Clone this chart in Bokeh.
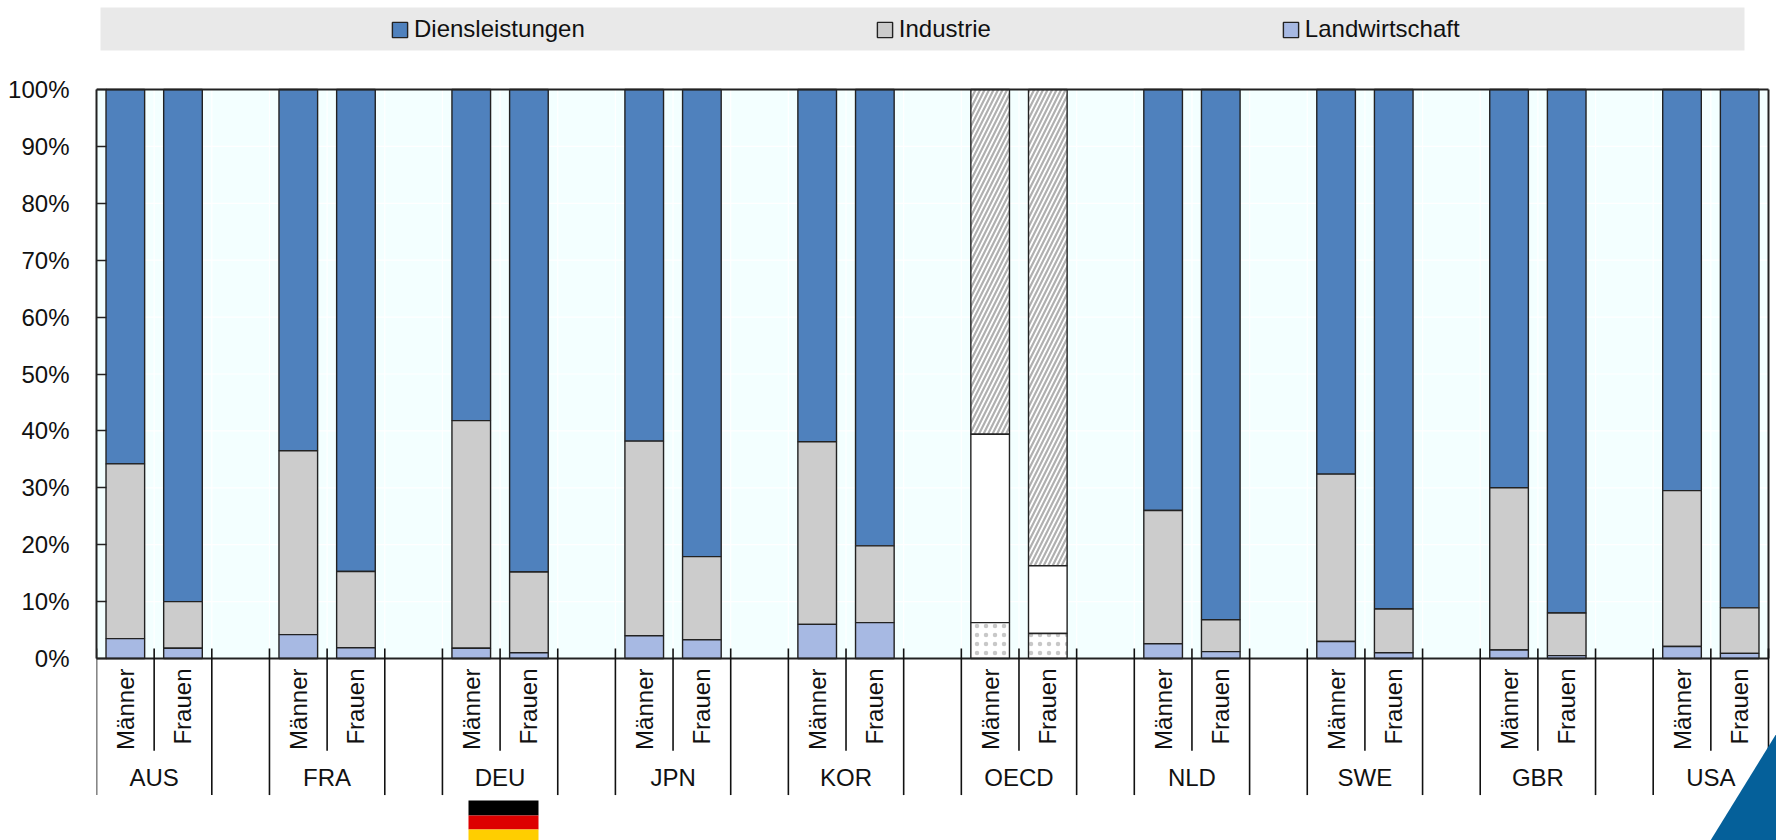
from bokeh.core.properties import value
from bokeh.embed import file_html
from bokeh.models import ColumnDataSource, Legend, LegendItem, Range1d
from bokeh.plotting import figure
from bokeh.resources import INLINE

countries = ["AUS", "FRA", "DEU", "JPN", "KOR", "OECD", "NLD", "SWE", "GBR", "USA"]
sexes = ["Männer", "Frauen"]

# Share of employment by sector, in percent; each pair is (men, women)
agriculture = [3.5, 1.8, 4.2, 1.9, 1.8, 1.0, 4.0, 3.3, 6.0, 6.3,
               6.3, 4.4, 2.6, 1.2, 3.0, 1.0, 1.5, 0.5, 2.1, 0.9]
industry = [30.7, 8.2, 32.3, 13.4, 40.0, 14.2, 34.2, 14.6, 32.1, 13.5,
            33.1, 11.9, 23.4, 5.6, 29.4, 7.7, 28.5, 7.5, 27.4, 8.0]
services = [65.8, 90.0, 63.5, 84.7, 58.2, 84.8, 61.8, 82.1, 61.9, 80.2,
            60.6, 83.7, 74.0, 93.2, 67.6, 91.3, 70.0, 92.0, 70.5, 91.1]
y_ticks = [0, 10, 20, 30, 40, 50, 60, 70, 80, 90, 100]
legend_labels = ["Diensleistungen", "Industrie", "Landwirtschaft"]

FONT = "Liberation Sans"
TEXT_SIZE = "24px"
INK = "#222222"
TEXT = "#111111"
BLUE, GREY, PALE = "#4F81BD", "#CCCCCC", "#A7B9E3"

WIDTH, HEIGHT = 1776, 840
AXIS_LEFT, AXIS_RIGHT = 96, 1768     # pixel columns of slot 0 and of the last slot edge
AXIS_TOP, AXIS_BOTTOM = 89, 658      # pixel rows of 100% and 0%

n_groups = len(countries)
n_slots = 2 * n_groups + n_groups - 1
slot_px = (AXIS_RIGHT - AXIS_LEFT) / n_slots
pct_px = (AXIS_BOTTOM - AXIS_TOP) / 100

# Men and women take one slot each, with an empty slot between countries
bar_x, bar_sex = [], []
group_edges, sex_edges, group_mid = [], [], []
for i in range(n_groups):
    bar_x += [3 * i + 0.5, 3 * i + 1.5]
    bar_sex += sexes
    group_edges += [3 * i, 3 * i + 2]
    sex_edges.append(3 * i + 1)
    group_mid.append(3 * i + 1)

oecd = [c == "OECD" for c in countries for _ in sexes]
high = [a + b for a, b in zip(agriculture, industry)]
tops = [h + s for h, s in zip(high, services)]

source = ColumnDataSource(dict(
    x=bar_x,
    a0=[0.0] * len(bar_x), a1=agriculture, i1=high, s1=tops,
    a_fill=["#FFFFFF" if o else PALE for o in oecd],
    i_fill=["#FFFFFF" if o else GREY for o in oecd],
    s_fill=["#FFFFFF" if o else BLUE for o in oecd],
    a_hatch=["dot" if o else " " for o in oecd],
    s_hatch=["right_diagonal_line" if o else " " for o in oecd],
))

# The plot area takes the whole page right of the axis, so the legend band, the category
# labels and the flag can all be drawn as glyphs
p = figure(
    width=WIDTH, height=HEIGHT, output_backend="svg", toolbar_location=None,
    x_range=Range1d(0, (WIDTH - AXIS_LEFT) / slot_px),
    y_range=Range1d(-(HEIGHT - AXIS_BOTTOM) / pct_px, AXIS_BOTTOM / pct_px),
    min_border_left=AXIS_LEFT, min_border_right=0, min_border_top=0, min_border_bottom=0,
    background_fill_color=None, border_fill_color="#FFFFFF", outline_line_color=None,
    x_axis_location=None,
)
p.grid.visible = False
p.extra_x_ranges["px"] = Range1d(AXIS_LEFT, WIDTH)
p.extra_y_ranges["px"] = Range1d(HEIGHT, 0)
PX = dict(x_range_name="px", y_range_name="px")

# Legend band
p.quad(left=[100], right=[1744], top=[7], bottom=[50], fill_color="#E9E9E9", line_color=None, **PX)

# Plot panel with its faint grid
p.quad(left=[0], right=[n_slots], top=[100], bottom=[0], fill_color="#F3FFFF", line_color=None)
slots = list(range(n_slots + 1))
p.segment(x0=slots, x1=slots, y0=[0] * len(slots), y1=[100] * len(slots),
          line_color="#FFFFFF", line_width=1.2)
p.segment(x0=[0] * len(y_ticks), x1=[n_slots] * len(y_ticks), y0=y_ticks, y1=y_ticks,
          line_color="#FFFFFF", line_width=1.2)

# Stacked bars
BAR = dict(source=source, x="x", width=0.67, line_color=INK, line_width=1.4)
r_services = p.vbar(bottom="i1", top="s1", fill_color="s_fill", hatch_pattern="s_hatch",
                    hatch_color="#B0B0B0", hatch_scale=9, hatch_weight=2.2, **BAR)
r_industry = p.vbar(bottom="a1", top="i1", fill_color="i_fill", **BAR)
r_agri = p.vbar(bottom="a0", top="a1", fill_color="a_fill", hatch_pattern="a_hatch",
                hatch_color="#C8C8C8", hatch_scale=9, hatch_weight=1.0, **BAR)

# Panel frame
p.segment(x0=[0, 0, n_slots], x1=[n_slots, n_slots, n_slots], y0=[100, 0, 0], y1=[100, 0, 100],
          line_color=INK, line_width=2)

# Value axis
p.yaxis.bounds = (0, 100)
p.yaxis.ticker = y_ticks
p.yaxis.major_label_overrides = {t: f"{t}%" for t in y_ticks}
p.yaxis.major_label_text_font = FONT
p.yaxis.major_label_text_font_size = TEXT_SIZE
p.yaxis.major_label_text_color = TEXT
p.yaxis.major_label_standoff = 27
p.yaxis.major_tick_in = 10
p.yaxis.major_tick_out = 0
p.yaxis.minor_tick_line_color = None
p.yaxis.axis_line_color = INK
p.yaxis.axis_line_width = 2
p.yaxis.major_tick_line_color = INK
p.yaxis.major_tick_line_width = 1.5

# Separators and category labels under the panel
p.segment(x0=group_edges, x1=group_edges, y0=[1.76] * len(group_edges), y1=[-24.0] * len(group_edges),
          line_color=TEXT, line_width=1.6)
p.segment(x0=sex_edges, x1=sex_edges, y0=[1.76] * len(sex_edges), y1=[-16.2] * len(sex_edges),
          line_color=TEXT, line_width=1.6)
p.text(x=bar_x, y=[-1.76] * len(bar_x), text=bar_sex, angle=1.5708,
       text_align="right", text_baseline="middle", text_font=value(FONT),
       text_font_size=value(TEXT_SIZE), text_color=TEXT)
p.text(x=group_mid, y=[-20.9] * len(group_mid), text=countries, text_align="center",
       text_baseline="middle", text_font=value(FONT), text_font_size=value(TEXT_SIZE),
       text_color=TEXT)

# Flag under the DEU group
for y0, y1, colour in ((800, 815, "#000000"), (815, 829, "#DD0000"), (829, 840, "#FFCE00")):
    p.quad(left=[468], right=[538], top=[y0], bottom=[y1], fill_color=colour, line_color=None, **PX)

# Corner triangle
p.patch(x=[1776, 1776, 1710], y=[733, 840, 840], fill_color="#05609A", line_color=None, **PX)

p.add_layout(Legend(
    items=[LegendItem(label=value(t), renderers=[r])
           for t, r in zip(legend_labels, (r_services, r_industry, r_agri))],
    orientation="horizontal", location=(294, 797), spacing=290, padding=0, margin=0,
    background_fill_alpha=0, border_line_color=None, glyph_width=19, glyph_height=19,
    label_text_font=FONT, label_text_font_size=TEXT_SIZE, label_standoff=5, label_text_color=TEXT,
), "center")

open("out.html", "w").write(file_html(p, INLINE))
